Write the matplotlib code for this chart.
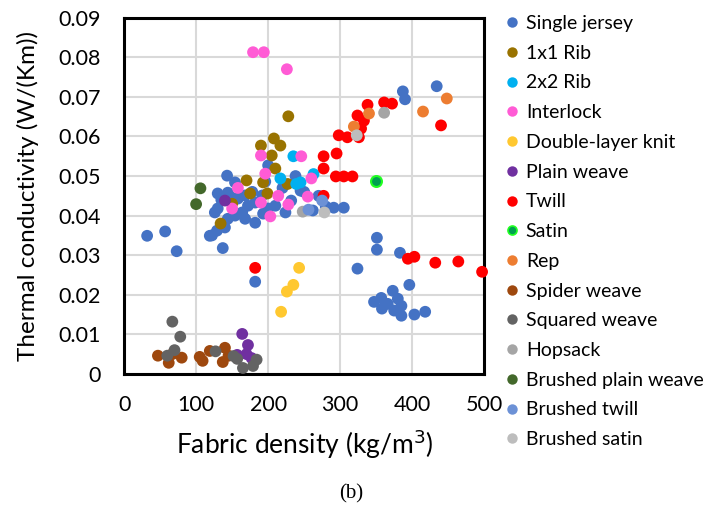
import matplotlib
matplotlib.use("Agg")
import matplotlib.pyplot as plt
from matplotlib.lines import Line2D

series_names = ["Single jersey", "1x1 Rib", "2x2 Rib", "Interlock", "Double-layer knit",
                "Plain weave", "Twill", "Satin", "Rep", "Spider weave", "Squared weave",
                "Hopsack", "Brushed plain weave", "Brushed twill", "Brushed satin"]
colors = ["#4472C4", "#997300", "#00B0F0", "#FF5BD5", "#FFC830", "#7030A0", "#FF0000",
          "#00A050", "#ED7D31", "#9E480E", "#636363", "#A5A5A5", "#43682B", "#6C91D6", "#BDBDBD"]
edge_colors = [None] * 7 + ["#22FF22"] + [None] * 7

single_jersey_x = [143, 154, 130, 144, 158, 168, 172, 164, 154, 168, 182, 144, 126, 130, 119, 129, 140,
                   182, 192, 210, 224, 200, 193, 196, 200, 238, 232, 245, 250, 262, 270, 280, 291, 305,
                   220, 135, 150, 178, 122, 32, 57, 73, 137, 182, 324, 351, 351, 383,
                   347, 357, 358, 373, 380, 385, 385, 396, 403, 418, 366, 375, 387, 390, 434]
single_jersey_y = [0.0501, 0.0484, 0.0456, 0.0458, 0.0443, 0.0451, 0.0425, 0.0408, 0.0400, 0.0392,
                   0.0382, 0.0392, 0.0408, 0.0418, 0.0349, 0.0362, 0.0370, 0.0433, 0.0451, 0.0425,
                   0.0408, 0.0418, 0.0405, 0.0486, 0.0527, 0.0500, 0.0438, 0.0463, 0.0460, 0.0413,
                   0.0450, 0.0423, 0.0420, 0.0420, 0.0470, 0.0440, 0.0445, 0.0460, 0.0350, 0.0349,
                   0.0360, 0.0310, 0.0318, 0.0233, 0.0266, 0.0344, 0.0314, 0.0306,
                   0.0182, 0.0192, 0.0165, 0.0210, 0.0190, 0.0172, 0.0147, 0.0225, 0.0150, 0.0157,
                   0.0177, 0.0160, 0.0714, 0.0694, 0.0727]

rib11_x = [228, 190, 208, 217, 205, 210, 170, 193, 175, 199, 227, 134, 150]
rib11_y = [0.0651, 0.0577, 0.0595, 0.0577, 0.0552, 0.0519, 0.0489, 0.0484, 0.0456, 0.0456,
           0.0480, 0.0380, 0.0430]

rib22_x = [235, 217, 239, 263, 245]
rib22_y = [0.0550, 0.0494, 0.0480, 0.0505, 0.0484]

interlock_x = [179, 194, 226, 246, 190, 196, 260, 158, 214, 255, 190, 228, 203, 150]
interlock_y = [0.0813, 0.0813, 0.0770, 0.0550, 0.0552, 0.0506, 0.0494, 0.0470, 0.0450, 0.0448,
               0.0433, 0.0428, 0.0398, 0.0418]

double_layer_x = [243, 235, 226, 218]
double_layer_y = [0.0268, 0.0225, 0.0208, 0.0157]

plain_weave_x = [140, 164, 172, 170, 177, 157]
plain_weave_y = [0.0438, 0.0101, 0.0073, 0.0050, 0.0040, 0.0048]

twill_x = [338, 324, 333, 361, 372, 329, 298, 310, 326, 440, 277, 295, 277, 294, 305, 317,
           277, 182, 394, 403, 432, 464, 497]
twill_y = [0.0680, 0.0653, 0.0640, 0.0686, 0.0683, 0.0620, 0.0603, 0.0598, 0.0598, 0.0628,
           0.0550, 0.0557, 0.0519, 0.0499, 0.0499, 0.0499, 0.0450, 0.0268, 0.0291, 0.0296,
           0.0281, 0.0284, 0.0258]

satin_x = [350]
satin_y = [0.0487]

rep_x = [340, 319, 415, 448]
rep_y = [0.0658, 0.0625, 0.0663, 0.0696]

spider_x = [47, 62, 67, 80, 105, 109, 119, 140, 137, 145]
spider_y = [0.0046, 0.0028, 0.0050, 0.0041, 0.0043, 0.0033, 0.0058, 0.0066, 0.0030, 0.0046]

squared_x = [67, 78, 70, 60, 127, 157, 165, 179, 184, 152]
squared_y = [0.0132, 0.0094, 0.0060, 0.0046, 0.0057, 0.0038, 0.0015, 0.0020, 0.0036, 0.0045]

hopsack_x = [361, 248]
hopsack_y = [0.0660, 0.0410]

brushed_plain_x = [106, 100]
brushed_plain_y = [0.0469, 0.0429]

brushed_twill_x = [275, 256]
brushed_twill_y = [0.0438, 0.0415]

brushed_satin_x = [323, 278]
brushed_satin_y = [0.0603, 0.0408]

xs = [single_jersey_x, rib11_x, rib22_x, interlock_x, double_layer_x, plain_weave_x, twill_x,
      satin_x, rep_x, spider_x, squared_x, hopsack_x, brushed_plain_x, brushed_twill_x, brushed_satin_x]
ys = [single_jersey_y, rib11_y, rib22_y, interlock_y, double_layer_y, plain_weave_y, twill_y,
      satin_y, rep_y, spider_y, squared_y, hopsack_y, brushed_plain_y, brushed_twill_y, brushed_satin_y]

x_ticks = [0, 100, 200, 300, 400, 500]
y_ticks = [0, 0.01, 0.02, 0.03, 0.04, 0.05, 0.06, 0.07, 0.08, 0.09]
y_tick_labels = ["0", "0.01", "0.02", "0.03", "0.04", "0.05", "0.06", "0.07", "0.08", "0.09"]

plt.rcParams['font.family'] = ['Lato', 'DejaVu Sans']

fig = plt.figure(figsize=(7.09, 5.08), dpi=100)
ax = fig.add_axes([0.175, 0.264, 0.508, 0.701])

handles = []
for name, c, ec, x, y in zip(series_names, colors, edge_colors, xs, ys):
    if ec is None:
        ax.scatter(x, y, s=72, color=c, edgecolors='none', zorder=3, clip_on=False)
        h = Line2D([], [], marker='o', linestyle='none', markersize=7.5,
                   markerfacecolor=c, markeredgecolor=c, markeredgewidth=0)
    else:
        ax.scatter(x, y, s=62, color=c, edgecolors=ec, linewidths=1.5, zorder=3, clip_on=False)
        h = Line2D([], [], marker='o', linestyle='none', markersize=6.5,
                   markerfacecolor=c, markeredgecolor=ec, markeredgewidth=1.2)
    handles.append(h)

ax.set_xlim(0, 500)
ax.set_ylim(0, 0.09)
ax.set_xticks(x_ticks)
ax.set_yticks(y_ticks)
ax.set_yticklabels(y_tick_labels)
ax.tick_params(axis='both', length=0, labelsize=15.5, colors='#000000')
ax.tick_params(axis='x', pad=15)
ax.tick_params(axis='y', pad=17)
ax.grid(True, color='#D9D9D9', linewidth=1.5, zorder=0)
ax.set_axisbelow(True)
for sp in ax.spines.values():
    sp.set_linewidth(2.2)
    sp.set_color('black')

ax.set_xlabel("Fabric density (kg/m$^3$)", fontsize=19, labelpad=9)
ax.set_ylabel("Thermal conductivity (W/(Km))", fontsize=17.5, labelpad=14)

fig.legend(handles, series_names, loc='upper left', bbox_to_anchor=(0.695, 0.986),
           frameon=False, fontsize=14, handletextpad=0.1, labelspacing=0.655,
           handlelength=1.2, borderaxespad=0)

fig.text(0.495, 0.018, "(b)", fontsize=15, family='Liberation Serif', ha='center')

fig.savefig("out.png", dpi=100)
